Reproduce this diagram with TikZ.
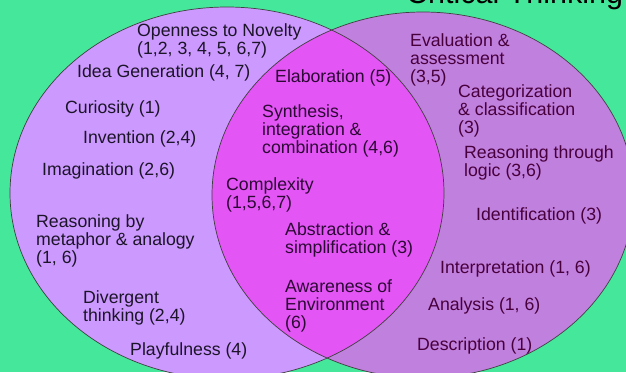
\documentclass[tikz,border=0pt]{standalone}
\usepackage{fontspec}
\setmainfont{Liberation Sans}
\usepackage{tikz}

\definecolor{bggreen}{HTML}{45E89B}
\definecolor{creafill}{HTML}{CC99FF}
\definecolor{critfill}{HTML}{C080DD}
\definecolor{bothfill}{HTML}{E455F5}
\definecolor{creatext}{HTML}{1C1428}
\definecolor{crittext}{HTML}{48003C}
\definecolor{bothtext}{HTML}{2C0834}

\newcommand{\vennlines}[1]{\begin{tabular}[t]{@{}l@{}}#1\end{tabular}}

\tikzset{
  lbl/.style={anchor=base west,inner sep=0pt,font=\fontsize{17.7}{18}\selectfont},
  crea/.style={lbl,text=creatext},
  crit/.style={lbl,text=crittext},
  both/.style={lbl,text=bothtext},
  rim/.style={draw=black!75,line width=0.7pt}
}

\begin{document}
\begin{tikzpicture}[x=1pt,y=-1pt]
\clip (0,0) rectangle (626,372);
\fill[bggreen] (0,0) rectangle (626,372);

% the two sets and their overlap
\fill[creafill] (227,193) ellipse [x radius=217,y radius=186];
\fill[critfill] (423,195) ellipse [x radius=211,y radius=183];
\begin{scope}
\clip (227,193) ellipse [x radius=217,y radius=186];
\fill[bothfill] (423,195) ellipse [x radius=211,y radius=183];
\end{scope}
\draw[rim] (227,193) ellipse [x radius=217,y radius=186];
\draw[rim] (423,195) ellipse [x radius=211,y radius=183];

% heading, mostly above the top edge
\node [lbl,font=\fontsize{30.5}{32}\selectfont] (title) at(406,4){Critical Thinking};

% creative side
\node [crea] (open) at(137,36){\vennlines{Openness to Novelty\\(1,2, 3, 4, 5, 6,7)}};
\node [crea] (idea) at(77,77){Idea Generation (4, 7)};
\node [crea] (curio) at(65,113){Curiosity (1)};
\node [crea] (invent) at(83,143){Invention (2,4)};
\node [crea] (imag) at(42,175){Imagination (2,6)};
\node [crea] (metaph) at(36,227){\vennlines{Reasoning by\\metaphor \& analogy\\(1, 6)}};
\node [crea] (diverg) at(83,303){\vennlines{Divergent\\thinking (2,4)}};
\node [crea] (play) at(130,355){Playfulness (4)};

% overlap
\node [both] (elab) at(275,82){Elaboration (5)};
\node [both] (synth) at(262,117){\vennlines{Synthesis,\\integration \&\\combination (4,6)}};
\node [both] (cplx) at(226,190){\vennlines{Complexity\\(1,5,6,7)}};
\node [both] (abstr) at(285,235){\vennlines{Abstraction \&\\simplification (3)}};
\node [both] (aware) at(285,292){\vennlines{Awareness of\\Environment\\(6)}};

% critical side
\node [crit] (eval) at(410,46){\vennlines{Evaluation \&\\assessment\\(3,5)}};
\node [crit] (categ) at(458,97){\vennlines{Categorization\\\& classification\\(3)}};
\node [crit] (logic) at(464,158){\vennlines{Reasoning through\\logic (3,6)}};
\node [crit] (ident) at(476,220){Identification (3)};
\node [crit] (interp) at(440,273){Interpretation (1, 6)};
\node [crit] (analys) at(428,310){Analysis (1, 6)};
\node [crit] (descr) at(417,350){Description (1)};

\end{tikzpicture}
\end{document}
